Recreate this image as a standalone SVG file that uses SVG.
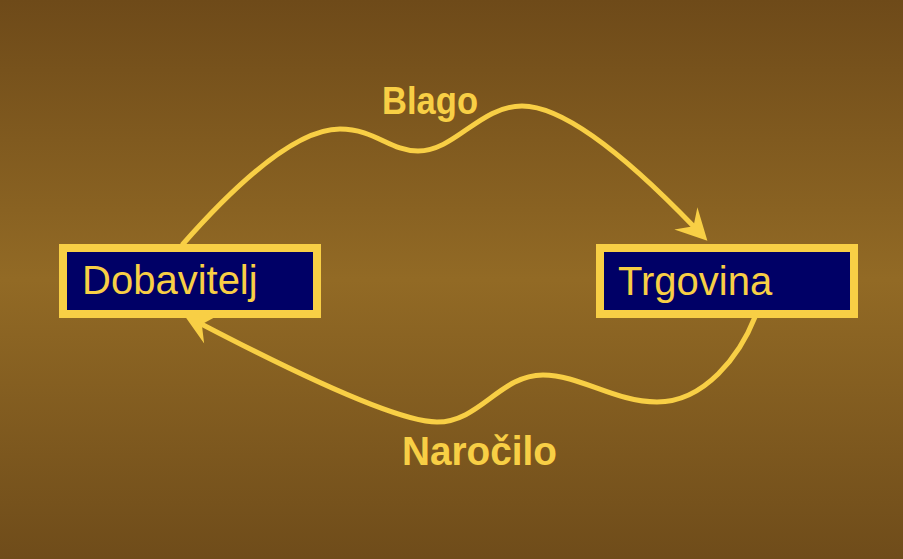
<svg xmlns="http://www.w3.org/2000/svg" width="903" height="559" viewBox="0 0 903 559">
  <defs>
    <linearGradient id="bg" x1="0" y1="0" x2="0" y2="1">
      <stop offset="0" stop-color="#6e4a19"/>
      <stop offset="0.5" stop-color="#926a25"/>
      <stop offset="1" stop-color="#6f4c1a"/>
    </linearGradient>
    <marker id="arrow" markerUnits="userSpaceOnUse" viewBox="-32 -18 34 36" markerWidth="34" markerHeight="36" refX="-20" refY="0" orient="auto">
      <path d="M0,0 L-31,-16 L-20,0 L-31,16 Z" fill="#f8cf45"/>
    </marker>
    <style>
      .box { fill: #000066; stroke: #f8cf45; stroke-width: 8; }
      .node-text { font-family: "Liberation Sans", Arial, sans-serif; font-size: 40px; fill: #f8cf45; }
      .label { font-family: "Liberation Sans", Arial, sans-serif; font-weight: bold; fill: #f8cf45; }
      .conn { fill: none; stroke: #f8cf45; stroke-width: 5; stroke-linecap: round; marker-end: url(#arrow); }
    </style>
  </defs>
  <rect x="0" y="0" width="903" height="559" fill="url(#bg)"/>
  <g id="connectors">
    <path id="blago-conn" class="conn" d="M183,244 C235,185 295,129 340,129 C375,129 390,151 418,151 C455,151 480,106 522,106 C560,106 620,150 693.5,226.3"/>
    <path id="narocilo-conn" class="conn" d="M755,317 C740,355 705,402 657,402 C615,402 580,375 543,375 C500,375 480,422 437,422 C395,422 280,365 201.8,324.2"/>
    <text class="label" x="382" y="114" font-size="38" textLength="96" lengthAdjust="spacingAndGlyphs">Blago</text>
    <text class="label" x="402" y="465" font-size="40" textLength="155" lengthAdjust="spacingAndGlyphs">Naročilo</text>
  </g>
  <g id="dobavitelj">
    <rect class="box" x="63" y="248" width="254" height="66"/>
    <text class="node-text" x="82" y="294">Dobavitelj</text>
  </g>
  <g id="trgovina">
    <rect class="box" x="600" y="248" width="254" height="66"/>
    <text class="node-text" x="618" y="295">Trgovina</text>
  </g>
</svg>
